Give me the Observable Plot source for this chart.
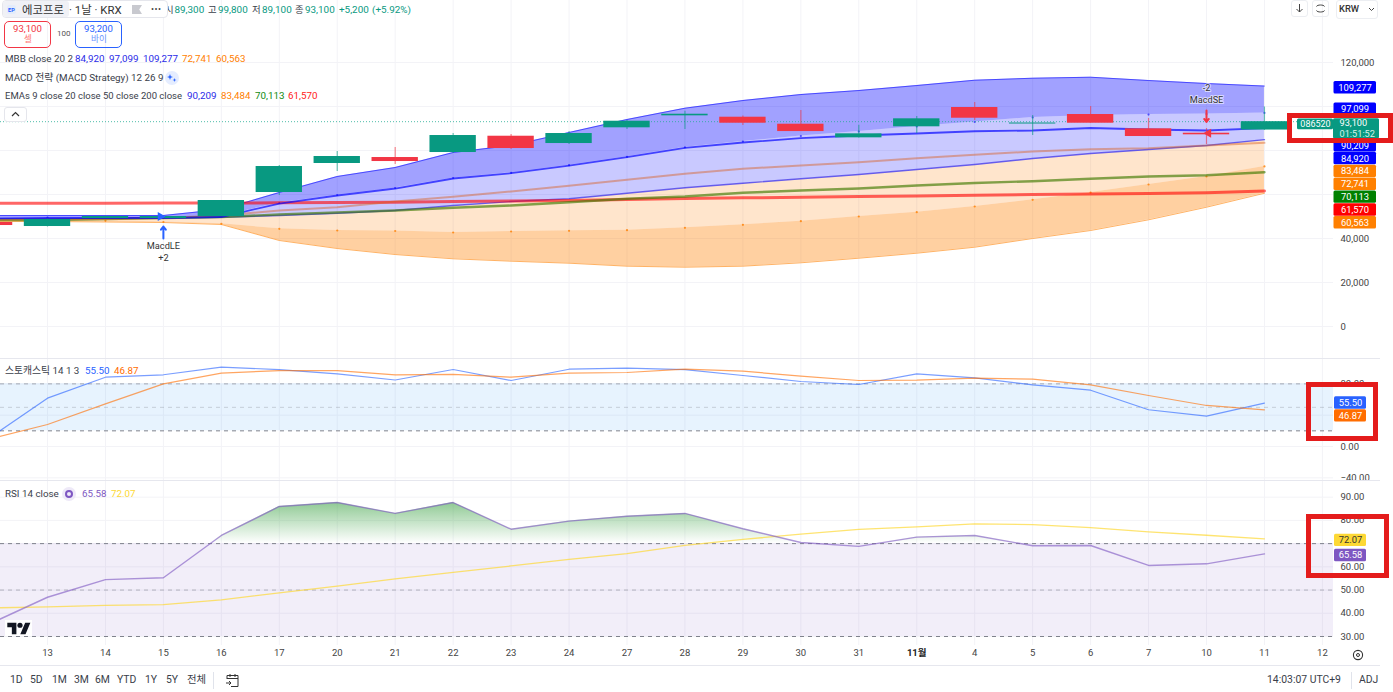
<!DOCTYPE html>
<html lang="ko">
<head>
<meta charset="utf-8">
<script src="https://cdn.jsdelivr.net/npm/d3@7"></script>
<script src="https://cdn.jsdelivr.net/npm/@observablehq/plot@0.6"></script>
<style>
html,body{margin:0;padding:0;background:#fff;overflow:hidden}
body{width:1393px;height:692px;position:relative;font-family:Roboto,"Noto Sans CJK KR",sans-serif;color:#3a3e4a}
.pane{position:absolute;left:0}
.pane svg{display:block}
.t{position:absolute;white-space:nowrap;font-size:9.8px;line-height:12px;transform:translateY(-50%)}
.box{position:absolute;box-sizing:border-box}
.sep{position:absolute;left:0;width:1380px;height:1px;background:#e6e7ee}
</style>
</head>
<body>
<script>
// ---------- categories ----------
const dayIndex = d3.range(-1, 22);
const axisTickIndex = d3.range(0, 23);
const axisTickLabels = ["13","14","15","16","17","20","21","22","23","24","27","28","29","30","31","11월","4","5","6","7","10","11","12"];

// ---------- candles, index -1 to 21 ----------
const candleOpen  = [47270,45450,49090,49090,49995,60900,74090,76810,79080,86490,83170,90310,95760,95130,91950,85760,90770,99540,92040,96360,89850,87850,89300];
const candleClose = [45900,48630,49995,49995,57270,72720,77270,74990,86810,80900,87720,93310,96490,92400,88610,87580,94400,94670,92490,92400,86360,87130,93100];
const candleHigh  = [47720,48860,50200,50200,57270,73170,79540,81360,87720,87270,88630,93630,97860,95670,98180,91490,95450,101800,95900,99990,94540,89990,99800];
const candleLow   = [45450,45220,49090,49090,49995,59540,70450,73630,78630,80450,82720,89540,89540,91360,88610,85670,87720,93630,86810,92400,86360,82720,89100];

// ---------- Bollinger bands ----------
const mbbUpper2 = [50450,50450,50450,50450,53180,60900,68180,72270,79080,82260,88170,94080,99220,102720,105440,107260,109530,111940,112850,113310,111810,110440,109277];
const mbbUpper1 = [49540,49540,49540,49540,50220,56130,59770,62950,67490,69860,73310,77130,81450,84080,86580,88630,90900,92950,94990,95900,96350,96580,97099];
const mbbBasis  = [49090,49090,49180,49310,49680,50450,51490,52720,54990,56810,58040,60590,63040,65130,67130,69080,71360,73630,76360,78630,80450,82260,84920];
const mbbLower1 = [48180,48180,48040,47500,46680,44400,43630,43400,42720,43180,43500,43770,44860,46220,47860,49990,51950,54540,57590,60900,64540,68180,72741];
const mbbLower2 = [47720,47720,47500,47270,46360,39090,35450,32720,30770,29680,28770,27410,26950,27410,28950,31040,33310,36040,40000,43630,48500,54220,60563];

// ---------- EMAs ----------
const ema9   = [49090,49310,49310,49310,49770,55900,59540,62720,67270,69670,73170,76950,81220,83630,85670,86810,87720,88760,89080,90220,89540,89080,90209];
const ema20  = [48630,48720,48860,49310,50450,52720,54220,56810,58990,61360,63950,66680,69400,71680,73170,74670,76490,78040,79540,80580,81040,82260,83484];
const ema50  = [48400,48400,48860,49310,49770,50900,51810,52720,53950,54990,56490,58040,59090,60770,61810,62720,64080,65220,66040,67130,68180,68770,70113];
const ema200 = [56040,56040,56040,56080,56130,56220,56360,56490,56810,57040,57270,57720,58180,58490,58720,59090,59310,59680,59990,60220,60450,60770,61570];

// ---------- oscillators ----------
const stochK = [11,61.7,88.5,91.6,101.3,98.3,92.8,84.9,98.3,84.3,98.7,100,98.3,90.7,83,79.2,92.8,87.7,78.8,71.9,46.9,38.7,55.5];
const stochD = [9.7,28.1,54.5,80,93.6,97,97,91.6,92,88.5,93.6,94.5,98.7,96.2,90,84.3,84.7,87.2,86,78.8,65.1,52.4,46.87];
const rsi    = [35.4,46.9,54.5,55.3,73.5,86,87.7,83,87.7,76.2,79.7,81.8,83,76.4,70.5,68.8,72.8,73.5,69.1,69.2,60.6,61.3,65.58];
const rsiMa  = [42.3,42.8,43.4,43.7,45.8,48.8,51.7,54.8,57.6,60.4,63.2,65.7,69.2,71.8,74.1,76.1,77.2,78.5,78.2,76.9,75.1,73.6,72.07];

// ---------- axis ticks and price tags ----------
const priceGrid = [0,20000,40000,60000,80000,100000,120000];
const priceLabels = [0,20000,40000,120000];      // the others sit behind the tags
const stochGrid = [-40,0,40,80];
const stochLabels = [-40,0,80];
const rsiGrid = [30,40,50,60,70,80,90];
const rsiLabels = [30,40,50,60,80,90];
const lastPrice = 93100;
const tagsAbove = [109277, 97099];
const tagsAboveColor = ["#0000ff","#0000ff"];
const tagsBelow = [90209, 84920, 83484, 72741, 70113, 61570, 60563];
const tagsBelowColor = ["#0000ff","#0000ff","#ff8000","#ff8000","#008000","#ff0000","#ff8000"];

// ---------- strategy signals ----------
const signalIndex = [2, 20];
const signalName = ["MacdLE", "MacdSE"];
const signalSize = ["+2", "-2"];

// ---------- shared layout ----------
const W = 1393, RIGHT = 60, FONT = 'Roboto,"Noto Sans CJK KR",sans-serif';
const XPX = 57.95, X0 = 47;
const xOf = px => (px - X0) / XPX;
const xScale = {type:"linear", domain:[xOf(0), xOf(W - RIGHT)], axis:null};
const XL = xOf(0), XR = xOf(W - RIGHT);
const grey = "#f3f3f7";
const baseStyle = {fontFamily:FONT, fontSize:"9.5px", background:"transparent", color:"#444"};
const rowsOf = obj => dayIndex.map((i,k) => {const r = {i}; for (const key in obj) r[key] = obj[key][k]; return r;});
const vGrid = () => Plot.ruleX(axisTickIndex, {stroke:grey});
const fmtPrice = d3.format(",");

function mount(plot, top){
  const d = document.createElement("div");
  d.className = "pane"; d.style.top = top + "px";
  d.append(plot); document.body.append(d);
}

// =============== price pane ===============
const H1 = 358, UPP = 1/0.0022;
const bands = rowsOf({mbbUpper2,mbbUpper1,mbbBasis,mbbLower1,mbbLower2,ema9,ema20,ema50,ema200});
const candles = rowsOf({o:candleOpen,c:candleClose,h:candleHigh,l:candleLow});
const UP = "#089981", DN = "#f23645";
const candleColor = d => d.c >= d.o ? UP : DN;

// stacking of the axis tags the way the chart pushes them apart around the last-price tag
const STEP = 12.85*UPP;
const tagRows = [];
{
  let prev = 0;
  [...tagsAbove].reverse().forEach((v,k) => {
    const pos = k === 0 ? Math.max(v, lastPrice + 14.2*UPP) : Math.max(v, prev + STEP);
    tagRows.push({v,pos,fill:[...tagsAboveColor].reverse()[k]}); prev = pos;
  });
  prev = lastPrice - 9.45*UPP;
  tagsBelow.forEach((v,k) => {
    const pos = Math.min(v, prev - STEP);
    tagRows.push({v,pos,fill:tagsBelowColor[k]}); prev = pos;
  });
}
const TX1 = xOf(1333.5), TX2 = xOf(1376), TXM = xOf(1354.5), TH = 6.2;
const priceTagMarks = [
  Plot.rect(tagRows, {x1:()=>TX1, x2:()=>TX2, y1:d=>d.pos-TH*UPP, y2:d=>d.pos+TH*UPP, fill:"fill", rx:1.5, dy:1.7}),
  Plot.text(tagRows, {x:()=>TXM, y:"pos", text:d=>fmtPrice(d.v), fill:"#fff", fontSize:9.4, dy:1.7})
];

const priceSignals = [
  {i:signalIndex[0], name:signalName[0], size:signalSize[0], nameY:36360, sizeY:30900, a1:40000, a2:45450, c:"#2962ff", tri:49990, rot:90},
  {i:signalIndex[1], name:signalName[1], size:signalSize[1], nameY:102720, sizeY:108170, a1:98180, a2:92950, c:"#f23645", tri:87850, rot:-90}
];

const pricePlot = Plot.plot({
  width:W, height:H1, marginTop:0, marginBottom:0, marginLeft:0, marginRight:RIGHT,
  style:baseStyle,
  x:xScale,
  y:{domain:[(326-H1)*UPP, 326*UPP], axis:null},
  marks:[
    vGrid(),
    Plot.ruleY(priceGrid, {x1:()=>XL, x2:()=>XR, stroke:grey}),
    Plot.axisY(priceLabels, {anchor:"right", tickSize:0, tickPadding:7, tickFormat:fmtPrice, label:null, fill:"#444"}),
    Plot.areaY(bands, {x:"i", y1:"mbbUpper1", y2:"mbbUpper2", fill:"#0000ff", fillOpacity:.37}),
    Plot.areaY(bands, {x:"i", y1:"mbbBasis", y2:"mbbUpper1", fill:"#0000ff", fillOpacity:.21}),
    Plot.areaY(bands, {x:"i", y1:"mbbLower1", y2:"mbbBasis", fill:"#ff7f00", fillOpacity:.2}),
    Plot.areaY(bands, {x:"i", y1:"mbbLower2", y2:"mbbLower1", fill:"#ff7f00", fillOpacity:.37}),
    Plot.lineY(bands, {x:"i", y:"mbbUpper2", stroke:"#0000ff", strokeOpacity:.55, strokeWidth:1}),
    Plot.lineY(bands, {x:"i", y:"mbbLower2", stroke:"#ff8000", strokeOpacity:.6, strokeWidth:1}),
    Plot.lineY(bands, {x:"i", y:"mbbBasis", stroke:"#0000ff", strokeOpacity:.6, strokeWidth:1.4}),
    Plot.dot(bands, {x:"i", y:"mbbUpper1", r:1.1, fill:"#0000ff", fillOpacity:.6}),
    Plot.dot(bands, {x:"i", y:"mbbLower1", r:1.1, fill:"#ff8000", fillOpacity:.8}),
    Plot.lineY(bands, {x:"i", y:"ema200", stroke:"#ff0000", strokeOpacity:.6, strokeWidth:3}),
    Plot.lineY(bands, {x:"i", y:"ema50", stroke:"#3f7a00", strokeOpacity:.65, strokeWidth:2.4}),
    Plot.lineY(bands, {x:"i", y:"ema20", stroke:"#d9601f", strokeOpacity:.45, strokeWidth:2}),
    Plot.lineY(bands, {x:"i", y:"ema9", stroke:"#0000ff", strokeOpacity:.68, strokeWidth:1.8}),
    Plot.ruleY([lastPrice], {x1:()=>XL, x2:()=>XR, stroke:"#22ab94", strokeOpacity:.8, strokeDasharray:"1 2"}),
    Plot.ruleX(candles, {x:"i", y1:"l", y2:"h", stroke:candleColor, strokeOpacity:.6, strokeWidth:1.2}),
    Plot.rect(candles, {x1:d=>d.i-.4, x2:d=>d.i+.4, y1:"o", y2:"c", fill:candleColor}),
    Plot.arrow(priceSignals, {x:"i", y1:"a1", y2:"a2", stroke:"c", strokeWidth:2, headLength:7, headAngle:75}),
    Plot.dot(priceSignals.slice(0,1), {x:"i", y:"tri", symbol:"triangle", r:3.4, fill:"c", rotate:"rot", dx:-3}),
    Plot.dot(priceSignals.slice(1), {x:"i", y:"tri", symbol:"triangle", r:3.4, fill:"c", rotate:"rot", dx:2}),
    Plot.text(priceSignals, {x:"i", y:"nameY", text:"name", fill:"#333", fontSize:9.2, stroke:"#fff", strokeOpacity:.6, strokeWidth:2}),
    Plot.text(priceSignals, {x:"i", y:"sizeY", text:"size", fill:"#333", fontSize:9.2, stroke:"#fff", strokeOpacity:.6, strokeWidth:2}),
    ...priceTagMarks,
    // last price: symbol tag + price with countdown
    Plot.rect([lastPrice], {x1:()=>xOf(1297), x2:()=>xOf(1333), y1:d=>d+2.7*UPP, y2:d=>d-8*UPP, fill:UP, rx:1.5}),
    Plot.text([lastPrice], {x:()=>xOf(1315), y:d=>d-2.6*UPP, text:()=>"086520", fill:"#fff", fontSize:9}),
    Plot.rect([lastPrice], {x1:()=>xOf(1333), x2:()=>xOf(1379), y1:d=>d+3*UPP, y2:d=>d-17.3*UPP, fill:UP, rx:1.5}),
    Plot.text([lastPrice], {x:()=>xOf(1339), y:d=>d-1.3*UPP, text:()=>fmtPrice(lastPrice), textAnchor:"start", fill:"#fff", fontSize:9.2}),
    Plot.text([lastPrice], {x:()=>xOf(1339), y:d=>d-12.3*UPP, text:()=>"01:51:52", textAnchor:"start", fill:"#d8f1ea", fontSize:9.2})
  ]
});
mount(pricePlot, 0);

// =============== stochastic pane ===============
const H2 = 121, SPP = 1/0.783, oscRows = rowsOf({stochK,stochD,rsi,rsiMa});
const smallTags = (vals, fills, textFills, nudge, upp) => {
  const step = 12.85*upp; let prev = Infinity;
  const rows = vals.map((v,k) => {const pos = Math.min(v, prev - step); prev = pos; return {v,pos,fill:fills[k],tf:textFills[k]};});
  return [
    Plot.rect(rows, {x1:()=>xOf(1334), x2:()=>xOf(1366), y1:d=>d.pos-6.2*upp, y2:d=>d.pos+6.2*upp, fill:"fill", rx:1.5, dy:nudge}),
    Plot.text(rows, {x:()=>xOf(1350), y:"pos", text:d=>d3.format(".2f")(d.v), fill:"tf", fontSize:9.4, dy:nudge})
  ];
};
const dashed = (vals, op) => Plot.ruleY(vals, {x1:()=>XL, x2:()=>XR, stroke:"#787b86", strokeOpacity:op, strokeDasharray:"4 4"});
const stochPlot = Plot.plot({
  width:W, height:H2+6, marginTop:0, marginBottom:6, marginLeft:0, marginRight:RIGHT,
  style:baseStyle,
  x:xScale,
  y:{domain:[(446-480)*SPP, (446-359)*SPP], axis:null},
  marks:[
    vGrid(),
    Plot.ruleY(stochGrid, {x1:()=>XL, x2:()=>XR, stroke:grey}),
    Plot.axisY(stochLabels, {anchor:"right", tickSize:0, tickPadding:7, tickFormat:d3.format(".2f"), label:null, fill:"#444"}),
    Plot.rect([0], {x1:()=>XL, x2:()=>XR, y1:()=>20, y2:()=>80, fill:"#2196f3", fillOpacity:.11}),
    dashed([80],.6), dashed([50],.3), dashed([20],.95),
    Plot.lineY(oscRows, {x:"i", y:"stochK", stroke:"#2962ff", strokeOpacity:.62, strokeWidth:1.2}),
    Plot.lineY(oscRows, {x:"i", y:"stochD", stroke:"#ff6d00", strokeOpacity:.62, strokeWidth:1.2}),
    ...smallTags([55.50,46.87], ["#2962ff","#ff6d00"], ["#fff","#fff"], 0, SPP)
  ]
});
mount(stochPlot, 359);

// =============== RSI pane ===============
const H3 = 184, RPP = 1/2.322;
// fill only above 70: add the points where the line meets the level
const obRows = [];
oscRows.forEach((d,k) => {
  const p = oscRows[k-1];
  if (p && (p.rsi-70)*(d.rsi-70) < 0) obRows.push({i:p.i+(70-p.rsi)/(d.rsi-p.rsi), y:70});
  obRows.push({i:d.i, y:Math.max(d.rsi,70)});
});
const rsiPlot = Plot.plot({
  width:W, height:H3, marginTop:0, marginBottom:20, marginLeft:0, marginRight:RIGHT,
  style:baseStyle,
  x:xScale,
  y:{domain:[30-(645-636)*RPP, 30+(636-481)*RPP], axis:null},
  marks:[
    () => {
      const defs = d3.create("svg:defs");
      const g = defs.append("linearGradient").attr("id","ob").attr("x1",0).attr("x2",0).attr("y1",0).attr("y2",1);
      g.append("stop").attr("offset","0").attr("stop-color","#3ea346").attr("stop-opacity",.58);
      g.append("stop").attr("offset","1").attr("stop-color","#3ea346").attr("stop-opacity",0);
      return defs.node();
    },
    vGrid(),
    Plot.ruleY(rsiGrid, {x1:()=>XL, x2:()=>XR, stroke:grey}),
    Plot.axisY(rsiLabels, {anchor:"right", tickSize:0, tickPadding:7, tickFormat:d3.format(".2f"), label:null, fill:"#444"}),
    Plot.rect([0], {x1:()=>XL, x2:()=>XR, y1:()=>30, y2:()=>70, fill:"#7e57c2", fillOpacity:.1}),
    Plot.areaY(obRows, {x:"i", y1:()=>70, y2:"y", fill:"url(#ob)"}),
    dashed([70],.95), dashed([50],.5), dashed([30],.95),
    Plot.lineY(oscRows, {x:"i", y:"rsiMa", stroke:"#fdd835", strokeOpacity:.7, strokeWidth:1.3}),
    Plot.lineY(oscRows, {x:"i", y:"rsi", stroke:"#7e57c2", strokeOpacity:.62, strokeWidth:1.4}),
    ...smallTags([72.07,65.58], ["#fdd835","#7e57c2"], ["#333","#fff"], 1.6, RPP),
    Plot.axisX(axisTickIndex.filter(i => i !== 15), {anchor:"bottom", tickSize:0, tickPadding:4, tickFormat:i => axisTickLabels[i], label:null, fill:"#444"}),
    Plot.axisX([15], {anchor:"bottom", tickSize:0, tickPadding:4, tickFormat:i => axisTickLabels[i], label:null, fill:"#222", fontWeight:700})
  ]
});
mount(rsiPlot, 481);

// =============== chrome ===============
function put(html){ const d = document.createElement("div"); d.innerHTML = html; while(d.firstChild) document.body.append(d.firstChild); }
const T = (x,y,s,c,extra="") => `<div class="t" style="left:${x}px;top:${y}px;color:${c||"#3a3e4a"};${extra}">${s}</div>`;
const G = "#089981";
const ohlc = [["시",165,"89,300",174.5],["고",208,"99,800",218],["저",252,"89,100",262],["종",295,"93,100",305]];
const legend = [
  [75,59,"84,920","#2a2ae8"],[109,59,"97,099","#2a2ae8"],[143,59,"109,277","#2a2ae8"],[182,59,"72,741","#ff8000"],[216,59,"60,563","#ff8000"],
  [187,96,"90,209","#2a2ae8"],[221,96,"83,484","#ff8000"],[255,96,"70,113","#108a10"],[288,96,"61,570","#ff2020"],
  [85,371,"55.50","#2962ff"],[114,371,"46.87","#ff6d00"],[82,494,"65.58","#7e57c2"],[111,494,"72.07","#fdd835"]
];
const ranges = [["1D",10],["5D",30],["1M",52],["3M",74],["6M",95],["YTD",117],["1Y",145],["5Y",166],["전체",187]];
put(`
<div class="sep" style="top:358px"></div><div class="sep" style="top:480px"></div><div class="sep" style="top:665px"></div>
${ohlc.map(o => T(o[1],10,o[0],"#3a3e4a","font-size:9.4px")+T(o[3],10,o[2],G,"font-size:9.9px")).join("")}
${T(339,10,"+5,200",G,"font-size:9.9px")}${T(372,10,"(+5.92%)",G,"font-size:9.9px")}
<div class="box" style="left:2px;top:0;width:166px;height:18px;background:#fff;border:1px solid #e5e6ec;border-radius:4px"></div>
<div class="box" style="left:3px;top:1px;width:66px;height:16px;background:#f0f1f6;border-radius:3px"></div>
<div class="box" style="left:7px;top:5px;width:9px;height:9px;background:#e4ecfb;border-radius:2px"></div>
${T(8,9.5,"EP","#2962ff","font-size:5.6px;font-weight:700")}
${T(22,10,"에코프로","#333","font-size:11.4px")}${T(69,10,"· 1날 · KRX","#333","font-size:11.4px")}
<div class="box" style="left:132px;top:5px;width:10px;height:9px;background:#c8c9cf;clip-path:polygon(0 0,100% 0,72% 50%,100% 100%,0 100%)"></div>
${T(151,9,"•••","#444","font-size:9px;letter-spacing:.5px")}
<div class="box" style="left:4px;top:21px;width:47px;height:27px;border:1px solid #f23645;border-radius:5px"></div>
${T(13,29,"93,100","#f23645","font-size:9.6px")}${T(24,39,"셀","#f77","font-size:8.6px")}
${T(57,34,"100","#555","font-size:8px")}
<div class="box" style="left:75px;top:21px;width:47px;height:27px;border:1px solid #2962ff;border-radius:5px"></div>
${T(84,29,"93,200","#2962ff","font-size:9.6px")}${T(91,39,"바이","#6b93ff","font-size:8.6px")}
${T(5,59,"MBB close 20 2")}
${T(5,78,"MACD 전략 (MACD Strategy) 12 26 9")}
<div class="box" style="left:165px;top:71px;width:14px;height:14px;border-radius:7px;background:#e5edff"></div>
<svg style="position:absolute;left:167px;top:73px" width="10" height="10" viewBox="0 0 10 10"><path fill="#2962ff" d="M3 1l.8 2.2L6 4 3.8 4.8 3 7 2.2 4.8 0 4l2.2-.8zM7.5 5l.5 1.5 1.5.5-1.5.5L7.5 9 7 7.5 5.5 7 7 6.5z"/></svg>
${T(5,96,"EMAs 9 close 20 close 50 close 200 close","#3a3e4a","font-size:9.5px")}
${legend.map(l => T(l[0],l[1],l[2],l[3])).join("")}
<div class="box" style="left:4px;top:107px;width:23px;height:15px;background:#fff;border:1px solid #e5e6ec;border-radius:3px"></div>
<svg style="position:absolute;left:11px;top:111px" width="9" height="6" viewBox="0 0 9 6"><path d="M1 5l3.5-3.5L8 5" fill="none" stroke="#333" stroke-width="1.2"/></svg>
${T(5,371,"스토캐스틱 14 1 3")}
${T(5,494,"RSI 14 close")}
<div class="box" style="left:62px;top:487px;width:14px;height:14px;border-radius:7px;background:#eee9f8"></div>
<div class="box" style="left:65px;top:490px;width:8px;height:8px;border-radius:4px;border:2px solid #7e57c2"></div>
<div class="box" style="left:5px;top:620px;width:27px;height:16px;background:#fff"></div>
<svg style="position:absolute;left:7px;top:622px" width="24" height="13" viewBox="0 0 36 20"><path fill="#131722" d="M14 19H7V8H0V1h14v18z M28 19h-8l7.5-18h8L28 19z"/><circle cx="19.5" cy="5" r="4" fill="#131722"/></svg>
<svg style="position:absolute;left:1352px;top:649px" width="12" height="12" viewBox="0 0 12 12"><circle cx="6" cy="6" r="4.6" fill="none" stroke="#333" stroke-width="1.1"/><circle cx="6" cy="6" r="1.5" fill="none" stroke="#333"/></svg>
${ranges.map(r => T(r[1],680,r[0],"#3a3e4a","font-size:10.4px")).join("")}
<div class="box" style="left:213px;top:672px;width:1px;height:17px;background:#e0e3eb"></div>
<svg style="position:absolute;left:225px;top:673px" width="15" height="15" viewBox="0 0 15 15"><path d="M2 6V2.5h11v11H6M2 5.5h11M5 1v3M10 1v3M1 10h5M4 8l2 2-2 2" fill="none" stroke="#333"/></svg>
${T(1267,680,"14:03:07 UTC+9","#3a3e4a","font-size:10.4px")}
<div class="box" style="left:1351px;top:672px;width:1px;height:17px;background:#e0e3eb"></div>
${T(1359,680,"ADJ","#3a3e4a","font-size:10.4px")}
<div class="box" style="left:1291px;top:0;width:17px;height:17px;border:1px solid #eceef2;border-radius:3px"></div>
<svg style="position:absolute;left:1295px;top:3px" width="9" height="11" viewBox="0 0 9 11"><path d="M4.5 1v8M1.5 6l3 3 3-3" fill="none" stroke="#444"/></svg>
<div class="box" style="left:1312px;top:0;width:17px;height:17px;border:1px solid #eceef2;border-radius:3px"></div>
<svg style="position:absolute;left:1315px;top:3px" width="11" height="11" viewBox="0 0 11 11"><path d="M1.5 3.5C2 1.5 9 1.5 9.5 3.5M1.5 7.5C2 9.5 9 9.5 9.5 7.5" fill="none" stroke="#444"/></svg>
<div class="box" style="left:1336px;top:0;width:42px;height:19px;border:1px solid #eceef2;border-radius:3px"></div>
${T(1339,9,"KRW","#333","font-size:9.4px;font-weight:500")}
<svg style="position:absolute;left:1368px;top:7px" width="7" height="5" viewBox="0 0 7 5"><path d="M1 1l2.5 2.5L6 1" fill="none" stroke="#444"/></svg>
<div class="box" style="left:1287px;top:113px;width:106px;height:30px;border:5px solid #e41c1c"></div>
<div class="box" style="left:1306px;top:382px;width:72px;height:59px;border:5px solid #e41c1c"></div>
<div class="box" style="left:1306px;top:514px;width:83px;height:64px;border:5px solid #e41c1c"></div>
`);
</script>
</body>
</html>
